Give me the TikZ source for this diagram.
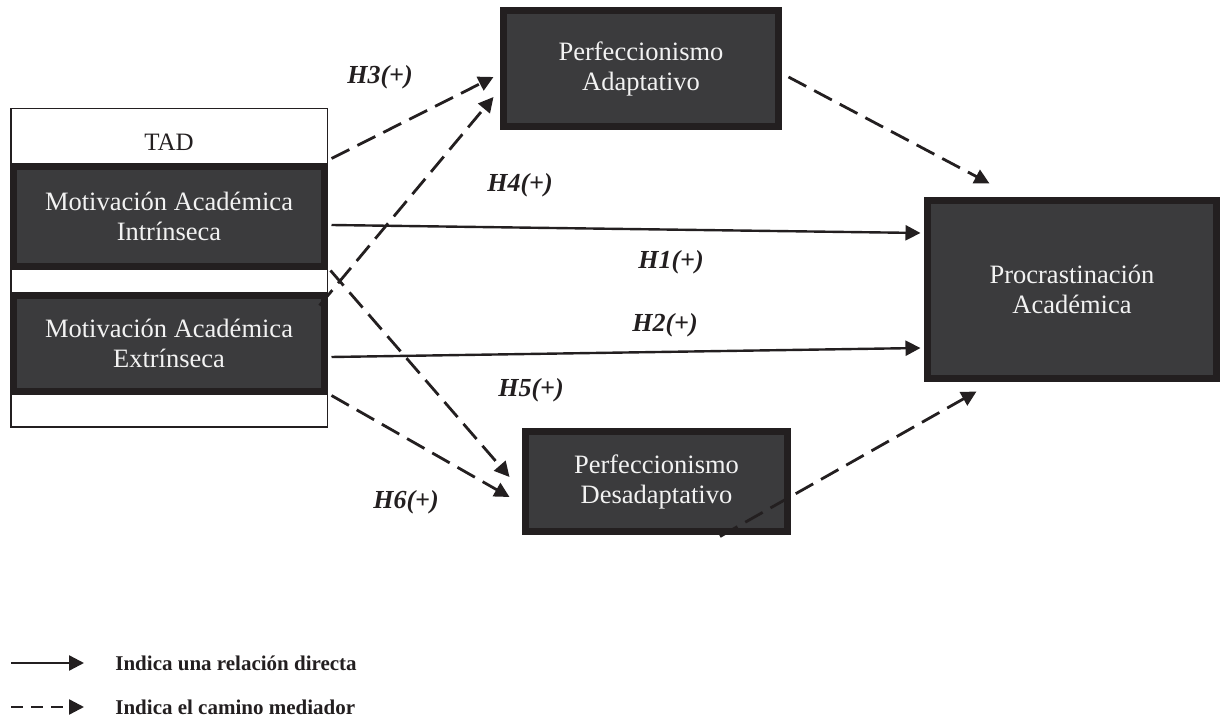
\documentclass[tikz,border=0pt]{standalone}
\usepackage{fontspec}
\setmainfont{Liberation Serif}
\usetikzlibrary{arrows.meta,calc}
\definecolor{boxfill}{HTML}{3B3B3D}
\definecolor{boxline}{HTML}{231F20}
\definecolor{ink}{HTML}{231F20}
\definecolor{boxtext}{HTML}{F2F2F2}
\tikzset{
  varbox/.style={draw=boxline, line width=3.5pt, fill=boxfill, text=boxtext,
    align=center, inner sep=0pt, font=\fontsize{13.25}{15}\selectfont},
  outerbox/.style={draw=ink, line width=0.75pt, fill=white, inner sep=0pt},
  hyp/.style={font=\fontsize{13}{15}\selectfont\bfseries\itshape, text=ink, inner sep=0pt},
  legendtext/.style={font=\fontsize{10.5}{12}\selectfont\bfseries, text=ink, anchor=west, inner sep=0pt},
  tip/.style={-{Triangle[length=7.5pt,width=7.5pt]}},
  direct/.style={tip, draw=ink, line width=1.2pt},
  mediated/.style={tip, draw=ink, line width=1.4pt, dash pattern=on 10pt off 4.5pt},
}
\begin{document}
\begin{tikzpicture}[x=0.5pt,y=-0.5pt]
\useasboundingbox (0,0) rectangle (1222,726);

% TAD frame
\node[outerbox, minimum width=158.25pt, minimum height=159.25pt] (tad) at (169,268) {};
\node[font=\fontsize{12.5}{14}\selectfont, text=ink, inner sep=0pt] (tadlbl) at (169,142) {TAD};

% Variables
\node[varbox, minimum width=155.5pt, minimum height=50pt] (mi) at (169,216.5) {Motivación Académica\\Intrínseca};
\node[varbox, minimum width=155.5pt, minimum height=48pt] (me) at (169,343.5) {Motivación Académica\\Extrínseca};
\node[varbox, minimum width=137.5pt, minimum height=58pt] (pa) at (641,68.5) {Perfeccionismo\\Adaptativo};
\node[varbox, minimum width=131pt, minimum height=50pt] (pd) at (656.5,481.5) {Perfeccionismo\\Desadaptativo};
\node[varbox, minimum width=144.5pt, minimum height=89pt] (pr) at (1072,289.5) {Procrastinación\\Académica};

% Mediated paths
\draw[mediated] ($(mi.north east)+(3.5,-4.5)$) -- ($(pa.west)+(-6.5,8.5)$);
\draw[mediated] ($(me.north east)+(-8.5,13.5)$) -- ($(pa.west)+(-6.5,28.5)$);
\draw[mediated] ($(pa.east)+(6.5,8.5)$) -- ($(pr.north west)+(65.5,-13.5)$);
\draw[mediated] ($(mi.south east)+(2.5,0.5)$) -- ($(pd.west)+(-12.5,-4.5)$);
\draw[mediated] ($(me.south east)+(3.5,0.5)$) -- ($(pd.west)+(-12.5,15.5)$);
\draw[mediated] ($(pd.south)+(63.5,1.5)$) -- ($(pr.south west)+(52.5,9.5)$);

% Direct paths
\draw[direct] ($(mi.east)+(3.5,8.5)$) -- ($(pr.west)+(-3.5,-56.5)$);
\draw[direct] ($(me.east)+(3.5,13.5)$) -- ($(pr.west)+(-3.5,58.5)$);

% Hypothesis labels
\node[hyp] (h3) at (380,77) {H3(+)};
\node[hyp] (h4) at (520,185) {H4(+)};
\node[hyp] (h1) at (671,262) {H1(+)};
\node[hyp] (h2) at (665,325) {H2(+)};
\node[hyp] (h5) at (531,390) {H5(+)};
\node[hyp] (h6) at (406,502) {H6(+)};

% Legend
\coordinate (l1a) at (11,663);
\coordinate (l1b) at (84,663);
\coordinate (l2a) at (11,707);
\coordinate (l2b) at (84,707);
\draw[tip, draw=ink, line width=1.2pt] (l1a) -- (l1b);
\draw[tip, draw=ink, line width=1.2pt, dash pattern=on 6pt off 4pt] (l2a) -- (l2b);
\node[legendtext] (lt1) at (115,663) {Indica una relación directa};
\node[legendtext] (lt2) at (115,707) {Indica el camino mediador};
\end{tikzpicture}
\end{document}
